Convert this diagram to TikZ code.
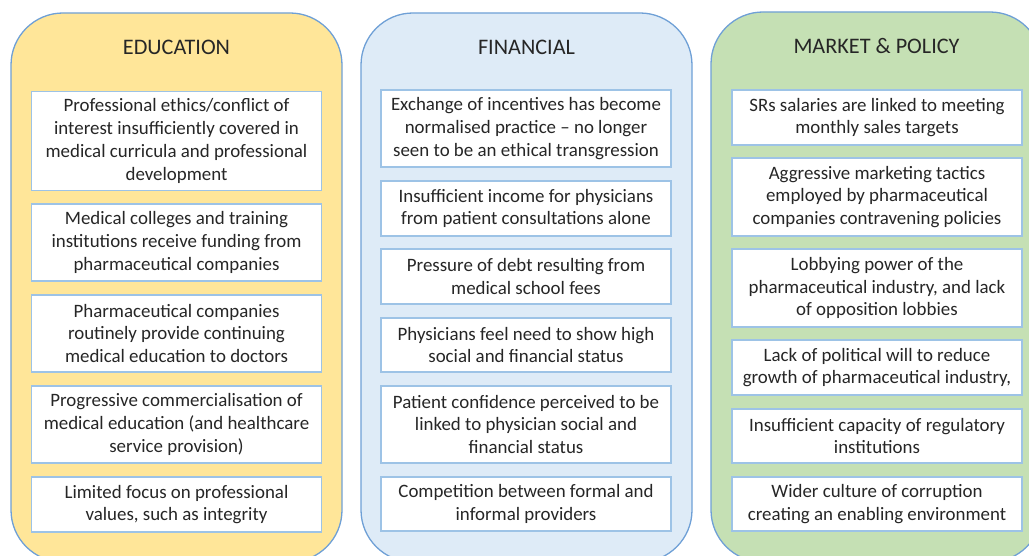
\documentclass[tikz,border=0pt]{standalone}
\usepackage{fontspec}
\setmainfont{Carlito}
\definecolor{edfill}{HTML}{FFE699}
\definecolor{fifill}{HTML}{DEEBF7}
\definecolor{mpfill}{HTML}{C5E0B4}
\definecolor{coledge}{HTML}{6FA0D6}
\definecolor{boxedge}{HTML}{9DC3E6}
\definecolor{txt}{HTML}{262626}
\tikzset{
  column/.style={draw=coledge, line width=1.3pt, rounded corners=52pt},
  coltitle/.style={text=txt, font=\fontsize{22.2}{26}\selectfont, inner sep=0pt},
  item/.style={draw=boxedge, line width=1.3pt, fill=white, text=txt, align=center,
    font=\fontsize{18.9}{22.7}\selectfont, inner sep=0pt, minimum width=290pt},
}
\begin{document}
\begin{tikzpicture}[x=1pt,y=-1pt]
\useasboundingbox (0,0) rectangle (1029,556);
\clip (0,0) rectangle (1029,556);
\draw[column, fill=edfill] (11,13) rectangle (342,562);
\draw[column, fill=fifill] (361,13) rectangle (692,562);
\draw[column, fill=mpfill] (711,12) rectangle (1042,562);

\node[coltitle] (tE) at (176.5,47.5) {EDUCATION};
\node[coltitle] (tF) at (526.5,47.5) {FINANCIAL};
\node[coltitle] (tM) at (876.5,46.5) {MARKET \& POLICY};

\node[item, minimum height=99pt] (e1) at (176.5,141) {Professional ethics/conflict of\\interest insufficiently covered in\\medical curricula and professional\\development};
\node[item, minimum height=77pt] (e2) at (176.5,242.5) {Medical colleges and training\\institutions receive funding from\\pharmaceutical companies};
\node[item, minimum height=77pt] (e3) at (176.5,333.5) {Pharmaceutical companies\\routinely provide continuing\\medical education to doctors};
\node[item, minimum height=77pt] (e4) at (176.5,424.5) {Progressive commercialisation of\\medical education (and healthcare\\service provision)};
\node[item, minimum height=55pt] (e5) at (176.5,504.5) {Limited focus on professional\\values, such as integrity};

\node[item, minimum height=77pt] (f1) at (526,128.5) {Exchange of incentives has become\\normalised practice -- no longer\\seen to be an ethical transgression};
\node[item, minimum height=55pt] (f2) at (526,208.5) {Insufficient income for physicians\\from patient consultations alone};
\node[item, minimum height=55pt] (f3) at (526,276.5) {Pressure of debt resulting from\\medical school fees};
\node[item, minimum height=54pt] (f4) at (526,345) {Physicians feel need to show high\\social and financial status};
\node[item, minimum height=77pt] (f5) at (526,424.5) {Patient confidence perceived to be\\linked to physician social and\\financial status};
\node[item, minimum height=54pt] (f6) at (526,504) {Competition between formal and\\informal providers};

\node[item, minimum height=55pt] (g1) at (877,117.5) {SRs salaries are linked to meeting\\monthly sales targets};
\node[item, minimum height=78pt] (g2) at (877,197) {Aggressive marketing tactics\\employed by pharmaceutical\\companies contravening policies};
\node[item, minimum height=78pt] (g3) at (877,288) {Lobbying power of the\\pharmaceutical industry, and lack\\of opposition lobbies};
\node[item, minimum height=55pt] (g4) at (877,367.5) {Lack of political will to reduce\\growth of pharmaceutical industry,};
\node[item, minimum height=54pt] (g5) at (877,436) {Insufficient capacity of regulatory\\institutions};
\node[item, minimum height=54pt] (g6) at (877,504) {Wider culture of corruption\\creating an enabling environment};
\end{tikzpicture}
\end{document}
